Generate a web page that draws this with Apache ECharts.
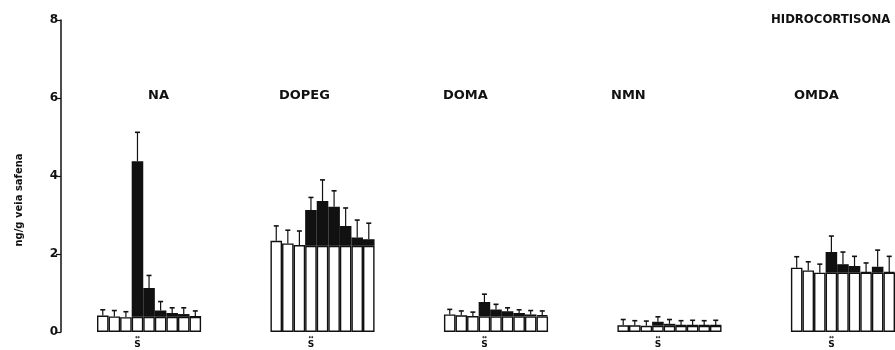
<!DOCTYPE html>
<html>
<head>
<meta charset="utf-8">
<script src="https://cdn.jsdelivr.net/npm/echarts@6/dist/echarts.min.js"></script>
<style>
  html, body { margin: 0; padding: 0; background: #fff; }
  #chart { width: 895px; height: 350px; }
</style>
</head>
<body>
<div id="chart"></div>
<script>
// Amine content (ng/g) of saphenous vein, hydrocortisone treatment.
// Per metabolite: 9 consecutive samples; mean and SEM.
const groupNames = ['NA', 'DOPEG', 'DOMA', 'NMN', 'OMDA'];

const naMean    = [0.42, 0.40, 0.38, 4.38, 1.13, 0.55, 0.49, 0.46, 0.39];
const naSem     = [0.15, 0.15, 0.14, 0.74, 0.32, 0.23, 0.13, 0.16, 0.15];

const dopegMean = [2.34, 2.27, 2.23, 3.13, 3.36, 3.21, 2.72, 2.42, 2.38];
const dopegSem  = [0.38, 0.34, 0.36, 0.32, 0.54, 0.41, 0.46, 0.45, 0.41];

const domaMean  = [0.45, 0.43, 0.41, 0.77, 0.58, 0.53, 0.49, 0.45, 0.43];
const domaSem   = [0.13, 0.11, 0.10, 0.20, 0.13, 0.09, 0.08, 0.10, 0.11];

const nmnMean   = [0.17, 0.17, 0.16, 0.26, 0.21, 0.17, 0.17, 0.17, 0.17];
const nmnSem    = [0.15, 0.12, 0.12, 0.13, 0.11, 0.12, 0.13, 0.12, 0.13];

const omdaMean  = [1.65, 1.58, 1.52, 2.05, 1.74, 1.69, 1.54, 1.67, 1.54];
const omdaSem   = [0.28, 0.22, 0.22, 0.41, 0.31, 0.25, 0.23, 0.43, 0.40];

// control level shown as the white part of samples 4-9
const controlLevel = [0.39, 2.21, 0.40, 0.16, 1.52];
const controlCount = 3;

const yTicks = [0, 2, 4, 6, 8];
const treatmentTitle = 'HIDROCORTISONA';
const yAxisTitle = 'ng/g veia safena';
const stimulusMark = 'S';

const groupMeans = [naMean, dopegMean, domaMean, nmnMean, omdaMean];
const groupSems  = [naSem, dopegSem, domaSem, nmnSem, omdaSem];

// layout of the category slots: 9 bars then 6 empty slots between groups
const barsPerGroup = 9;
const slotsPerGroup = 15;
const slotCount = slotsPerGroup * (groupNames.length - 1) + barsPerGroup;

const categories = [];
const baseData = [];
const excessData = [];
const errorData = [];
for (let s = 0; s < slotCount; s++) {
  const g = Math.floor(s / slotsPerGroup);
  const i = s % slotsPerGroup;
  categories.push(g + '-' + i);
  if (i >= barsPerGroup) {
    baseData.push('-');
    excessData.push('-');
    continue;
  }
  const m = groupMeans[g][i];
  if (i < controlCount) {
    baseData.push(m);
    excessData.push('-');
  } else {
    const base = controlLevel[g];
    baseData.push(base);
    excessData.push(Math.max(0, +(m - base).toFixed(3)));
  }
  errorData.push([s, m, m + groupSems[g][i]]);
}

const ink = '#111';
const chart = echarts.init(document.getElementById('chart'), null, { renderer: 'canvas' });

const labelLeft = [148, 279, 443, 611, 794];

chart.setOption({
  backgroundColor: '#fff',
  animation: false,
  grid: { left: 97, top: 20, width: 799, height: 312, containLabel: false },
  xAxis: {
    type: 'category',
    data: categories,
    axisLine: { show: false },
    axisTick: { show: false },
    splitLine: { show: false },
    axisLabel: {
      interval: 0,
      margin: 3,
      formatter: function (v) {
        const i = +v.split('-')[1];
        return i === controlCount ? '{a|\u2194}\n{b|' + stimulusMark + '}' : '';
      },
      rich: {
        a: { fontSize: 6, lineHeight: 5, color: ink, fontFamily: 'DejaVu Sans', fontWeight: 'bold' },
        b: { fontSize: 9, lineHeight: 9, color: ink, fontFamily: 'DejaVu Sans', fontWeight: 'bold' }
      }
    }
  },
  yAxis: {
    type: 'value',
    min: yTicks[0],
    max: yTicks[yTicks.length - 1],
    interval: yTicks[1] - yTicks[0],
    offset: 36,
    axisLine: { show: true, lineStyle: { color: ink, width: 1.5 } },
    axisTick: { show: true, length: 5, lineStyle: { color: ink, width: 1.2 } },
    splitLine: { show: false },
    axisLabel: { color: ink, fontSize: 12, fontWeight: 'bold', fontFamily: 'DejaVu Sans', margin: 3 }
  },
  series: [
    {
      type: 'bar',
      stack: 'amount',
      data: baseData,
      barWidth: '100%',
      barCategoryGap: '0%',
      itemStyle: { color: '#fff', borderColor: ink, borderWidth: 1.4 }
    },
    {
      type: 'bar',
      stack: 'amount',
      data: excessData,
      barWidth: '100%',
      barCategoryGap: '0%',
      itemStyle: { color: ink, borderColor: ink, borderWidth: 1.4 }
    },
    {
      type: 'custom',
      data: errorData,
      encode: { x: 0, y: [1, 2] },
      z: 5,
      renderItem: function (params, api) {
        const x = api.value(0);
        const p0 = api.coord([x, api.value(1)]);
        const p1 = api.coord([x, api.value(2)]);
        const cap = 2.5;
        return {
          type: 'group',
          children: [
            { type: 'line', shape: { x1: p0[0], y1: p0[1], x2: p1[0], y2: p1[1] }, style: { stroke: ink, lineWidth: 1.2 } },
            { type: 'line', shape: { x1: p1[0] - cap, y1: p1[1], x2: p1[0] + cap, y2: p1[1] }, style: { stroke: ink, lineWidth: 1.6 } }
          ]
        };
      }
    }
  ],
  graphic: groupNames.map(function (name, g) {
    return {
      type: 'text',
      left: labelLeft[g],
      top: 89,
      style: { text: name, fill: ink, font: 'bold 13px "DejaVu Sans"' }
    };
  }).concat([
    {
      type: 'text',
      left: 771,
      top: 13,
      style: { text: treatmentTitle, fill: ink, font: 'bold 13px "DejaVu Sans Condensed", "DejaVu Sans"' }
    },
    {
      type: 'text',
      x: 19,
      y: 200,
      rotation: Math.PI / 2,
      style: {
        text: yAxisTitle, fill: ink, font: 'bold 10px "DejaVu Sans"',
        align: 'center', verticalAlign: 'middle'
      }
    }
  ])
});
</script>
</body>
</html>
